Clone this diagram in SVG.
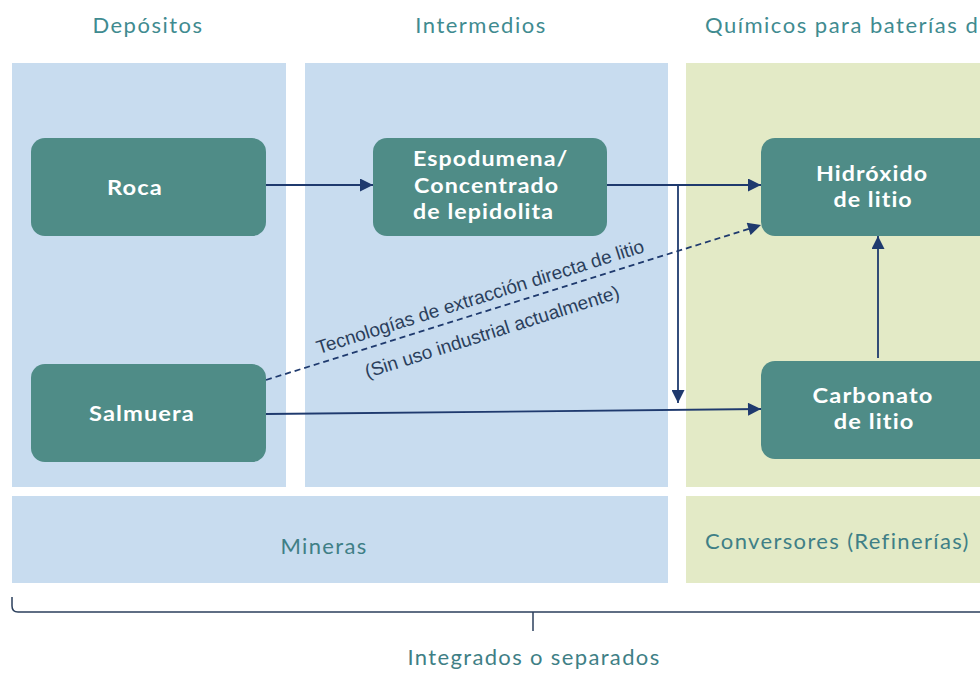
<svg xmlns="http://www.w3.org/2000/svg" width="980" height="673" viewBox="0 0 980 673">
<style>
.hdr{font-family:Lato,"Open Sans",sans-serif;font-size:22px;letter-spacing:1.5px;fill:#3f8b90}
.lbl{font-family:Lato,"Open Sans",sans-serif;font-size:22px;letter-spacing:1.35px;fill:#3f7f86}
.blue{fill:#c8dcef}
.green{fill:#e3eac6}
.node{fill:#4f8c87}
.nt{font-family:Lato,"Open Sans",sans-serif;font-size:21.5px;letter-spacing:1px;font-weight:bold;fill:#ffffff}
.c{text-anchor:middle}
.con{stroke:#1f3a6e;stroke-width:1.8;fill:none}
.dl{font-family:"Liberation Sans",Arial,sans-serif;font-size:19px;fill:#2b3f5c;text-anchor:middle}
</style>
<defs>
<marker id="ah" viewBox="0 0 10 10" refX="10" refY="5" markerWidth="14" markerHeight="13" markerUnits="userSpaceOnUse" orient="auto">
<path d="M0,0 L10,5 L0,10 z" fill="#1f3a6e"/>
</marker>
</defs>
<rect width="980" height="673" fill="#ffffff"/>
<g id="headers">
<text class="hdr" x="148" y="33" text-anchor="middle">Depósitos</text>
<text class="hdr" x="481" y="33" text-anchor="middle">Intermedios</text>
<text class="hdr" x="705" y="33">Químicos para baterías d</text>
</g>
<g id="panels">
<rect class="blue" x="12" y="63" width="274" height="424"/>
<rect class="blue" x="305" y="63" width="363" height="424"/>
<rect class="green" x="686" y="63" width="294" height="424"/>
<rect class="blue" x="12" y="496" width="656" height="87"/>
<rect class="green" x="686" y="496" width="294" height="87"/>
<text class="lbl" x="324" y="554" text-anchor="middle">Mineras</text>
<text class="lbl" x="705" y="549">Conversores (Refinerías)</text>
</g>
<g id="connectors">
<line class="con" x1="266" y1="185" x2="373" y2="185" marker-end="url(#ah)"/>
<line class="con" x1="607" y1="185" x2="761" y2="185" marker-end="url(#ah)"/>
<line class="con" x1="678" y1="185" x2="678" y2="403" marker-end="url(#ah)"/>
<line class="con" x1="266" y1="414" x2="761" y2="409" marker-end="url(#ah)"/>
<line class="con" x1="266" y1="380" x2="761" y2="225" stroke-dasharray="6,4" marker-end="url(#ah)"/>
<line class="con" x1="878" y1="358" x2="878" y2="236" marker-end="url(#ah)"/>
<text class="dl" transform="translate(482,303) rotate(-17.4)">Tecnologías de extracción directa de litio</text>
<text class="dl" transform="translate(494,338) rotate(-17.6)">(Sin uso industrial actualmente)</text>
</g>
<g id="roca">
<rect class="node" x="31" y="138" width="235" height="98" rx="14"/>
<text class="nt c" transform="translate(135,195) scale(1.1,1)">Roca</text>
</g>
<g id="salmuera">
<rect class="node" x="31" y="364" width="235" height="98" rx="14"/>
<text class="nt c" transform="translate(142,421) scale(1.1,1)">Salmuera</text>
</g>
<g id="espodumena">
<rect class="node" x="373" y="138" width="234" height="98" rx="14"/>
<g transform="translate(413,0) scale(1.08,1)">
<text class="nt" x="0" y="166">Espodumena/</text>
<text class="nt" x="1" y="193">Concentrado</text>
<text class="nt" x="0" y="219">de lepidolita</text>
</g>
</g>
<g id="hidroxido">
<rect class="node" x="761" y="138" width="240" height="98" rx="14"/>
<g transform="translate(872,0) scale(1.08,1)">
<text class="nt c" x="0" y="181">Hidróxido</text>
<text class="nt c" x="1" y="207">de litio</text>
</g>
</g>
<g id="carbonato">
<rect class="node" x="761" y="361" width="240" height="98" rx="14"/>
<g transform="translate(873,0) scale(1.1,1)">
<text class="nt c" x="0" y="403">Carbonato</text>
<text class="nt c" x="1" y="429">de litio</text>
</g>
</g>
<g id="bracket">
<path d="M12,597 L12,606 Q12,612 18,612 L980,612" fill="none" stroke="#2b3f5c" stroke-width="1.5"/>
<line x1="533" y1="612" x2="533" y2="631" stroke="#2b3f5c" stroke-width="1.5"/>
<text class="lbl" x="534" y="665" text-anchor="middle">Integrados o separados</text>
</g>
</svg>
